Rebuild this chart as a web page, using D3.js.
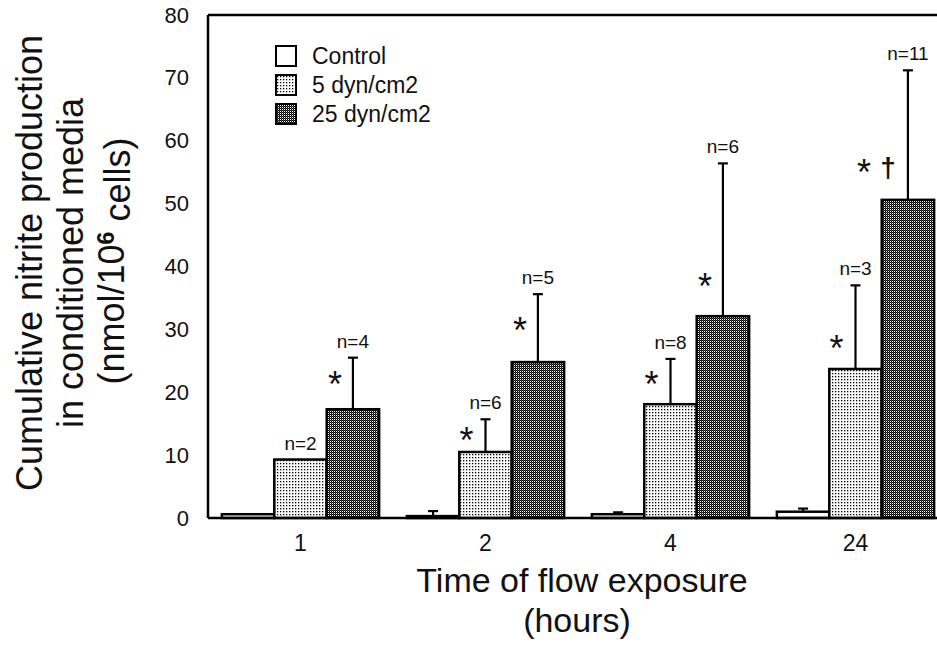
<!DOCTYPE html>
<html>
<head>
<meta charset="utf-8">
<script src="https://cdn.jsdelivr.net/npm/d3@7"></script>
<style>
  body { margin: 0; background: #fff; }
  svg text { font-family: "Liberation Sans", Arial, sans-serif; fill: #111; }
</style>
</head>
<body>
<div id="chart"></div>
<script>
// chart values
var groups = ["1", "2", "4", "24"];
var seriesNames = ["Control", "5 dyn/cm2", "25 dyn/cm2"];
var controlMean = [0.6, 0.3, 0.6, 1.0];
var controlErr = [null, 1.1, 0.9, 1.5];
var dyn5Mean = [9.3, 10.5, 18.1, 23.7];
var dyn5Err = [null, 15.7, 25.3, 37.0];
var dyn25Mean = [17.3, 24.8, 32.1, 50.6];
var dyn25Err = [25.5, 35.6, 56.4, 71.2];
var dyn5N = ["n=2", "n=6", "n=8", "n=3"];
var dyn25N = ["n=4", "n=5", "n=6", "n=11"];
var dyn5Star = [null, 13.7, 22.7, 28.4];
var dyn25Star = [22.7, 31.2, 38.2, 56.4];
var dyn25Dagger = [null, null, null, 55.6];
var yTicks = [0, 10, 20, 30, 40, 50, 60, 70, 80];

var svgWidth = 937;
var svgHeight = 653;

var svg = d3.select("#chart")
  .append("svg")
  .attr("width", svgWidth)
  .attr("height", svgHeight);

// patterns for the shaded bars
var defs = svg.append("defs");
var light = defs.append("pattern")
  .attr("id", "light")
  .attr("width", 3).attr("height", 3)
  .attr("patternUnits", "userSpaceOnUse");
light.append("rect").attr("width", 3).attr("height", 3).attr("fill", "#fff");
light.append("rect").attr("x", 1).attr("y", 1).attr("width", 1.3).attr("height", 1.3).attr("fill", "#000");

var dark = defs.append("pattern")
  .attr("id", "dark")
  .attr("width", 2).attr("height", 2)
  .attr("patternUnits", "userSpaceOnUse");
dark.append("rect").attr("width", 2).attr("height", 2).attr("fill", "#fff");
dark.append("rect").attr("x", 0).attr("y", 0).attr("width", 1).attr("height", 1).attr("fill", "#000");
dark.append("rect").attr("x", 1).attr("y", 1).attr("width", 1).attr("height", 1).attr("fill", "#000");
dark.append("rect").attr("x", 1).attr("y", 0).attr("width", 1).attr("height", 1).attr("fill", "#444");

var fills = ["#fff", "url(#light)", "url(#dark)"];

// scales
var x0 = d3.scaleBand()
  .domain(groups)
  .range([208, 948])
  .paddingInner(0.15)
  .paddingOuter(0.075);

var x1 = d3.scaleBand()
  .domain(seriesNames)
  .range([0, x0.bandwidth()]);

var y = d3.scaleLinear()
  .domain([0, 80])
  .range([518, 15]);

var means = [controlMean, dyn5Mean, dyn25Mean];
var errs = [controlErr, dyn5Err, dyn25Err];

var bars = [];
groups.forEach(function(g, i) {
  seriesNames.forEach(function(s, j) {
    bars.push({group: g, series: s, idx: j, mean: means[j][i], err: errs[j][i]});
  });
});

function cx(d) { return x0(d.group) + x1(d.series) + x1.bandwidth() / 2; }

// y axis (labels only, no tick marks)
var leftAxis = d3.axisLeft(y).tickValues(yTicks).tickSize(0).tickPadding(19);
var yAxis = svg.append("g")
  .attr("transform", "translate(208,0)")
  .call(leftAxis);
yAxis.select(".domain").remove();
yAxis.selectAll("text")
  .style("font-size", "22px");

var bottomAxis = d3.axisBottom(x0).tickSize(0).tickPadding(17);
var xAxis = svg.append("g")
  .attr("transform", "translate(0,518)")
  .call(bottomAxis);
xAxis.select(".domain").remove();
xAxis.selectAll("text")
  .style("font-size", "23px");

// bars
svg.append("g")
  .selectAll("rect")
  .data(bars)
  .enter()
  .append("rect")
  .attr("x", d => x0(d.group) + x1(d.series))
  .attr("y", d => y(d.mean))
  .attr("width", x1.bandwidth())
  .attr("height", d => y(0) - y(d.mean))
  .attr("fill", d => fills[d.idx])
  .attr("stroke", "#000")
  .attr("stroke-width", 2.5);

// error bars
var withErr = bars.filter(d => d.err != null);
var eb = svg.append("g").attr("stroke", "#000").attr("stroke-width", 2.2);
eb.selectAll("line.v")
  .data(withErr)
  .enter()
  .append("line")
  .attr("class", "v")
  .attr("x1", cx).attr("x2", cx)
  .attr("y1", d => y(d.mean))
  .attr("y2", d => y(d.err));
eb.selectAll("line.cap")
  .data(withErr)
  .enter()
  .append("line")
  .attr("class", "cap")
  .attr("x1", d => cx(d) - 5).attr("x2", d => cx(d) + 5)
  .attr("y1", d => y(d.err))
  .attr("y2", d => y(d.err));

// axes frame lines
svg.append("line")
  .attr("x1", 208).attr("x2", 937)
  .attr("y1", y(0)).attr("y2", y(0))
  .attr("stroke", "#000").attr("stroke-width", 2.5);
svg.append("line")
  .attr("x1", 208).attr("x2", 208)
  .attr("y1", y(80)).attr("y2", y(0))
  .attr("stroke", "#000").attr("stroke-width", 2.5);
svg.append("line")
  .attr("x1", 208).attr("x2", 937)
  .attr("y1", y(80)).attr("y2", y(80))
  .attr("stroke", "#000").attr("stroke-width", 2.5);

// n= labels
var nData = [];
groups.forEach(function(g, i) {
  nData.push({group: g, series: seriesNames[1], label: dyn5N[i], top: dyn5Err[i] != null ? dyn5Err[i] : dyn5Mean[i]});
  nData.push({group: g, series: seriesNames[2], label: dyn25N[i], top: dyn25Err[i]});
});
svg.append("g")
  .selectAll("text")
  .data(nData)
  .enter()
  .append("text")
  .attr("x", cx)
  .attr("y", d => y(d.top) - 10)
  .attr("text-anchor", "middle")
  .style("font-size", "19px")
  .text(d => d.label);

// significance marks
var stars = [];
groups.forEach(function(g, i) {
  if (dyn5Star[i] != null) stars.push({group: g, series: seriesNames[1], v: dyn5Star[i], dx: -19, t: "*"});
  if (dyn25Star[i] != null) stars.push({group: g, series: seriesNames[2], v: dyn25Star[i], dx: dyn25Dagger[i] != null ? -44 : -18, t: "*"});
  if (dyn25Dagger[i] != null) stars.push({group: g, series: seriesNames[2], v: dyn25Dagger[i], dx: -20, t: "\u2020"});
});
svg.append("g")
  .selectAll("text")
  .data(stars)
  .enter()
  .append("text")
  .attr("x", d => cx(d) + d.dx)
  .attr("y", d => y(d.v))
  .attr("dy", d => d.t == "*" ? "0.6em" : "0.3em")
  .attr("text-anchor", "middle")
  .style("font-size", d => d.t == "*" ? "36px" : "28px")
  .style("font-weight", d => d.t == "*" ? "normal" : "bold")
  .text(d => d.t);

// legend
var legend = svg.append("g").attr("transform", "translate(276,46)");
var li = legend.selectAll("g")
  .data(seriesNames)
  .enter()
  .append("g")
  .attr("transform", (d, i) => `translate(0, ${i * 29})`);
li.append("rect")
  .attr("width", 20).attr("height", 20)
  .attr("fill", (d, i) => fills[i])
  .attr("stroke", "#000")
  .attr("stroke-width", 2);
li.append("text")
  .attr("x", 36)
  .attr("y", 18)
  .style("font-size", "23px")
  .text(d => d);

// axis titles
var yTitle = svg.append("text")
  .attr("transform", "translate(0,263) rotate(-90)")
  .attr("text-anchor", "middle")
  .style("font-size", "36px");
yTitle.append("tspan").attr("x", 0).attr("y", 42).text("Cumulative nitrite production");
yTitle.append("tspan").attr("x", 0).attr("y", 83).text("in conditioned media");
var l3 = svg.append("text")
  .attr("transform", "translate(0,261) rotate(-90)")
  .attr("text-anchor", "middle")
  .attr("y", 124)
  .style("font-size", "36px");
l3.append("tspan").text("(nmol/10");
l3.append("tspan").attr("dy", "-0.45em").style("font-size", "23px").style("font-weight", "bold").text("6");
l3.append("tspan").attr("dy", "0.45em").text(" cells)");

svg.append("text")
  .attr("x", 582)
  .attr("y", 592)
  .attr("text-anchor", "middle")
  .style("font-size", "34px")
  .text("Time of flow exposure");
svg.append("text")
  .attr("x", 577)
  .attr("y", 632)
  .attr("text-anchor", "middle")
  .style("font-size", "34px")
  .text("(hours)");
</script>
</body>
</html>
